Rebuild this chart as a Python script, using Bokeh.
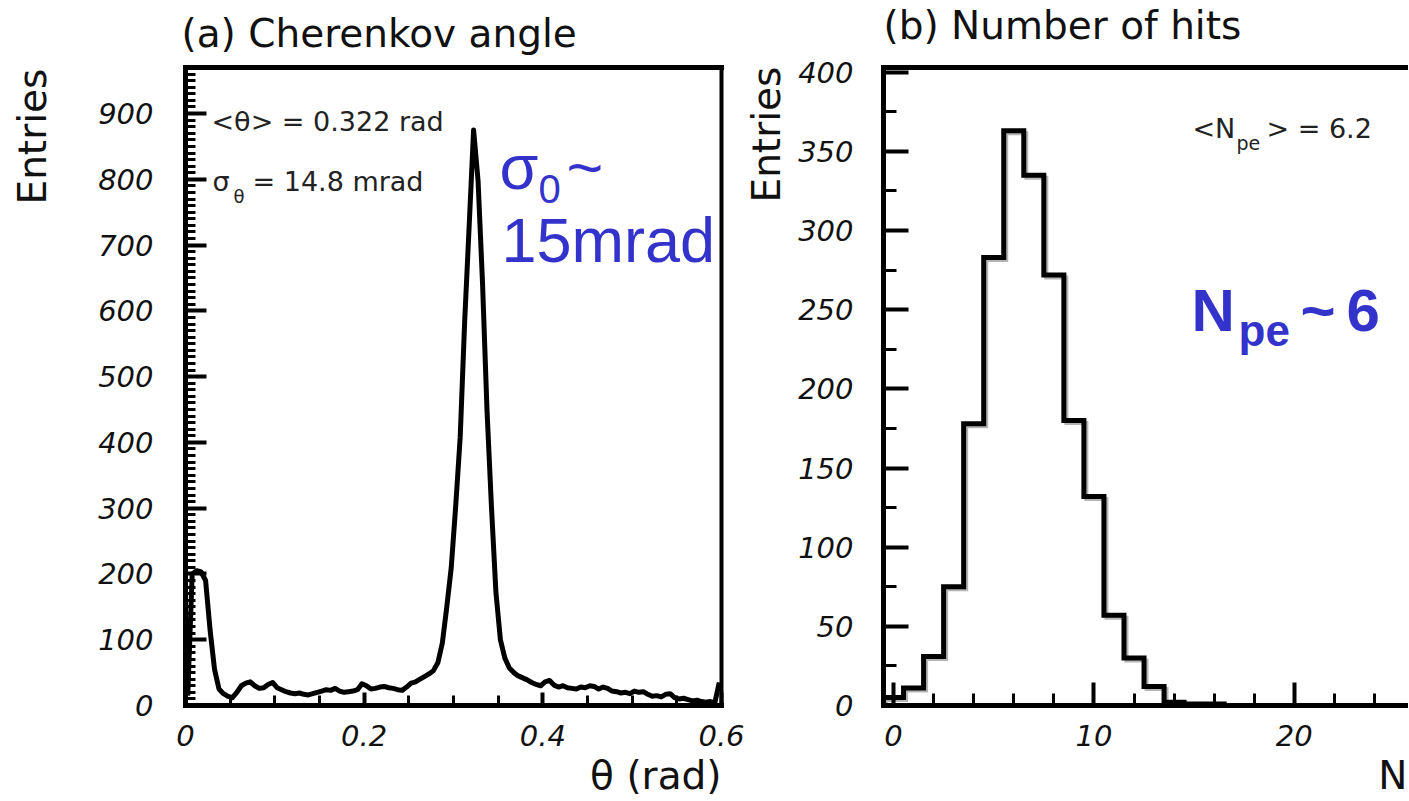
import math
from bokeh.plotting import figure
from bokeh.models import Range1d, Label, LinearAxis, FixedTicker
from bokeh.layouts import row
from bokeh.embed import file_html
from bokeh.resources import INLINE

# ---------------- data ----------------
# (a) Cherenkov angle histogram: entries per 0.005 rad bin, from 0 to 0.6 rad
theta_bin_width = 0.005
theta_entries = [
    15, 200, 205, 203, 190, 115, 55, 25, 18, 14,
    12, 20, 30, 34, 36, 30, 26, 27, 32, 35,
    27, 24, 21, 19, 18, 19, 17, 16, 18, 20,
    22, 24, 23, 26, 22, 20, 21, 22, 24, 33,
    30, 25, 26, 28, 29, 27, 26, 24, 23, 28,
    34, 36, 40, 44, 48, 53, 65, 95, 150, 210,
    304, 408, 584, 728, 875, 798, 642, 449, 302, 172,
    100, 72, 57, 50, 45, 42, 39, 35, 32, 30,
    36, 38, 31, 28, 30, 27, 26, 25, 28, 27,
    30, 29, 25, 28, 26, 22, 21, 19, 20, 18,
    22, 20, 21, 17, 14, 15, 13, 17, 18, 12,
    10, 11, 9, 7, 8, 6, 5, 6, 4, 35,
]
theta_centers = [(i + 0.5) * theta_bin_width for i in range(len(theta_entries))]

# (b) Number of hits histogram: entries for N = 0, 1, 2, ...
hits_values = list(range(18))
hits_entries = [5, 11, 31, 75, 178, 283, 363, 335, 272, 180, 132, 57, 30, 12, 2, 1, 1, 0]

# axis ticks and tick labels
theta_ticks = [0, 0.2, 0.4, 0.6]
theta_tick_labels = ["0", "0.2", "0.4", "0.6"]
theta_minor = [k * 0.05 for k in range(13)]
entries_a_ticks = [0, 100, 200, 300, 400, 500, 600, 700, 800, 900]
entries_a_minor = [k * 10 for k in range(98)]
hits_ticks = [0, 10, 20]
hits_minor = [k * 2 for k in range(14)]
entries_b_ticks = [0, 50, 100, 150, 200, 250, 300, 350, 400]
entries_b_minor = [25, 75, 125, 175, 225, 275, 325, 375]

# texts
title_a = "(a) Cherenkov angle"
title_b = "(b) Number of hits"
ytitle = "Entries"
xtitle_a = "θ (rad)"
xtitle_b = "N"
mean_theta_text = "<θ> = 0.322 rad"
sigma_theta_text = "= 14.8 mrad"
mean_npe_text = "> = 6.2"

# ---------------- layout constants (page pixels) ----------------
W_TOTAL, H = 1408, 800
SPLIT_PX = 745
TOP_PX, BOT_PX = 67, 705
A_LEFT_PX, A_RIGHT_PX = 185, 721
B_LEFT_PX = 883
B_PX_PER_UNIT = 20.04
A_XMAX, A_YMAX = 0.6, 970
B_XMIN, B_YMAX = -0.5, 403
LABEL_SHIFT = 0.37   # label anchor correction, in em
SHADOW_PX = 2.5      # grey drop shadow of the step outline

BLUE = "#3333CC"
INK = "#111111"
NOTE = "#222222"
FONT = "DejaVu Sans"


# page pixel -> data coordinate helpers (the frame of each panel spans its whole canvas)
def X1(px):
    return (px - A_LEFT_PX) / (A_RIGHT_PX - A_LEFT_PX) * A_XMAX


def Y1(py):
    return (BOT_PX - py) / (BOT_PX - TOP_PX) * A_YMAX


def X2(px):
    return B_XMIN + (px - B_LEFT_PX) / B_PX_PER_UNIT


def Y2(py):
    return (BOT_PX - py) / (BOT_PX - TOP_PX) * B_YMAX


def style_axis(ax, tick_in, minor_in, standoff):
    ax.axis_line_width = 5
    ax.axis_line_color = "black"
    ax.axis_line_cap = "square"
    ax.major_tick_in = tick_in
    ax.major_tick_out = 0
    ax.minor_tick_in = minor_in
    ax.minor_tick_out = 0
    ax.major_tick_line_width = 4
    ax.minor_tick_line_width = 3
    ax.major_tick_line_color = "black"
    ax.minor_tick_line_color = "black"
    ax.major_label_text_font = FONT
    ax.major_label_text_font_style = "italic"
    ax.major_label_text_font_size = "29px"
    ax.major_label_text_color = INK
    ax.major_label_standoff = standoff


def frame_line(p, side, loc, bounds, width):
    ax = LinearAxis(ticker=FixedTicker(ticks=[]), fixed_location=loc, bounds=bounds,
                    axis_line_width=width, axis_line_color="black", axis_line_cap="square",
                    major_label_text_font_size="0px")
    p.add_layout(ax, side)


def lab(p, fx, fy, px, py, text, size, font=FONT, color=INK, style="normal",
        align="left", vertical=False):
    """Place text with its baseline at page pixel (px, py)."""
    d = LABEL_SHIFT * size
    if vertical:
        x, y, angle = fx(px - d), fy(py), math.pi / 2
    else:
        x, y, angle = fx(px), fy(py - d), 0.0
    p.add_layout(Label(x=x, y=y, text=text, text_font=font, text_font_size=f"{size}px",
                       text_color=color, text_font_style=style, text_align=align,
                       text_baseline="alphabetic", angle=angle))


def base_fig(w, xr, yr):
    p = figure(width=w, height=H, x_range=xr, y_range=yr, output_backend="svg",
               toolbar_location=None, title=None, min_border=0,
               min_border_left=0, min_border_right=0, min_border_top=0, min_border_bottom=0)
    p.xgrid.visible = False
    p.ygrid.visible = False
    p.outline_line_color = None
    p.background_fill_color = "white"
    p.border_fill_color = "white"
    return p


# ---------------- panel (a) ----------------
w1 = SPLIT_PX
p1 = base_fig(w1, Range1d(X1(0), X1(w1)), Range1d(Y1(H), Y1(0)))

p1.xaxis.ticker = FixedTicker(ticks=theta_ticks, minor_ticks=theta_minor)
p1.xaxis.major_label_overrides = dict(zip(theta_ticks, theta_tick_labels))
p1.xaxis.fixed_location = 0
p1.xaxis.bounds = (0, A_XMAX)
p1.yaxis.ticker = FixedTicker(ticks=entries_a_ticks, minor_ticks=entries_a_minor)
p1.yaxis.fixed_location = 0
p1.yaxis.bounds = (0, A_YMAX)
style_axis(p1.xaxis[0], 13, 10, 19)
style_axis(p1.yaxis[0], 21, 10, 32)
frame_line(p1, "above", A_YMAX, (0, A_XMAX), 5)
frame_line(p1, "right", A_XMAX, (0, A_YMAX), 4)

p1.line(theta_centers, theta_entries, line_width=5, line_color="black", line_join="round")

lab(p1, X1, Y1, 181, 47, title_a, 39)
lab(p1, X1, Y1, 46, 204, ytitle, 39, vertical=True)
lab(p1, X1, Y1, 721, 789, xtitle_a, 39, align="right")
lab(p1, X1, Y1, 211, 131, mean_theta_text, 27, color=NOTE)
lab(p1, X1, Y1, 212, 191, "σ", 27, color=NOTE)
lab(p1, X1, Y1, 233, 203, "θ", 18, color=NOTE)
lab(p1, X1, Y1, 252, 191, sigma_theta_text, 27, color=NOTE)
lab(p1, X1, Y1, 499, 190, "σ", 63, font="Liberation Sans", color=BLUE)
lab(p1, X1, Y1, 538, 203, "0", 40, font="Liberation Sans", color=BLUE)
lab(p1, X1, Y1, 566, 190, "~", 63, font="Liberation Sans", color=BLUE)
lab(p1, X1, Y1, 501, 263, "15mrad", 63, font="Liberation Sans", color=BLUE)

# ---------------- panel (b) ----------------
w2 = W_TOTAL - SPLIT_PX
p2 = base_fig(w2, Range1d(X2(SPLIT_PX), X2(W_TOTAL)), Range1d(Y2(H), Y2(0)))

p2.xaxis.ticker = FixedTicker(ticks=hits_ticks, minor_ticks=hits_minor)
p2.xaxis.fixed_location = 0
p2.xaxis.bounds = (B_XMIN, 40)
p2.yaxis.ticker = FixedTicker(ticks=entries_b_ticks, minor_ticks=entries_b_minor)
p2.yaxis.fixed_location = B_XMIN
p2.yaxis.bounds = (0, B_YMAX)
style_axis(p2.xaxis[0], 23, 12, 19)
style_axis(p2.yaxis[0], 25, 13, 30)
frame_line(p2, "above", B_YMAX, (B_XMIN, 40), 5)

# step outline of the histogram, built from the bin values
step_x = [hits_values[0] - 0.5]
step_y = [0]
for n, v in zip(hits_values, hits_entries):
    step_x += [n - 0.5, n + 0.5]
    step_y += [v, v]
step_x.append(hits_values[-1] + 0.5)
step_y.append(0)

# faint grey drop shadow, as in the scanned original
dx = SHADOW_PX / B_PX_PER_UNIT
dy = SHADOW_PX * B_YMAX / (BOT_PX - TOP_PX)
p2.line([x + dx for x in step_x], [max(y - dy, 0) for y in step_y],
        line_width=4, line_color="#b4b4b4", line_join="miter")
p2.line(step_x, step_y, line_width=5, line_color="black", line_join="miter")

lab(p2, X2, Y2, 883, 39, title_b, 39)
lab(p2, X2, Y2, 780, 202, ytitle, 39, vertical=True)
lab(p2, X2, Y2, 1407, 789, xtitle_b, 39, align="right")
lab(p2, X2, Y2, 1192, 138, "<N", 27, color=NOTE)
lab(p2, X2, Y2, 1236, 150, "pe", 19, color=NOTE)
lab(p2, X2, Y2, 1266, 138, mean_npe_text, 27, color=NOTE)
lab(p2, X2, Y2, 1191, 332, "N", 60, font="Liberation Sans", color=BLUE, style="bold")
lab(p2, X2, Y2, 1238, 346, "pe", 44, font="Liberation Sans", color=BLUE, style="bold")
lab(p2, X2, Y2, 1300, 332, "~", 60, font="Liberation Sans", color=BLUE, style="bold")
lab(p2, X2, Y2, 1346, 332, "6", 60, font="Liberation Sans", color=BLUE, style="bold")

layout = row(p1, p2)
open("out.html", "w").write(file_html(layout, INLINE))
